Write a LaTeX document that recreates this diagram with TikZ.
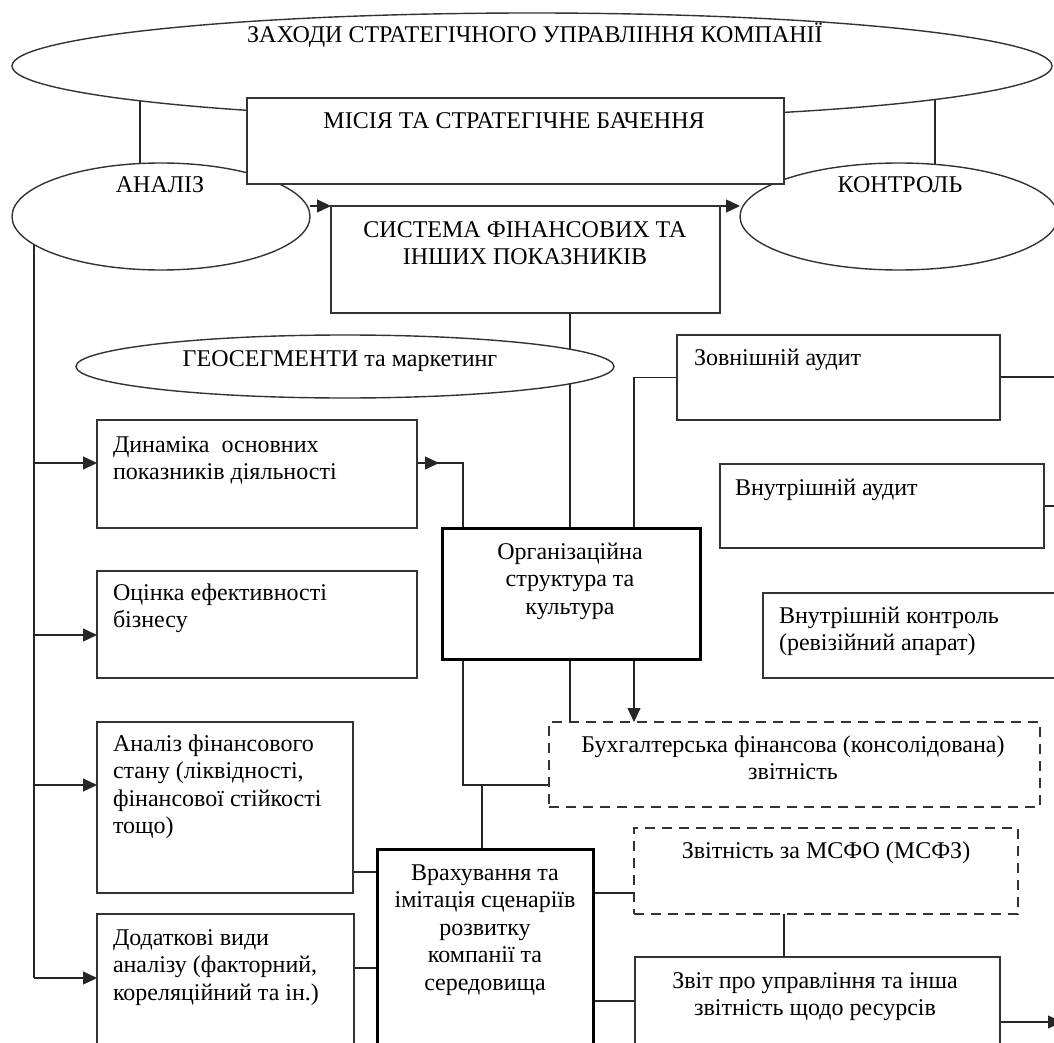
\documentclass[tikz,border=0pt]{standalone}
\usepackage{fontspec}
\setmainfont{Liberation Serif}
\usetikzlibrary{arrows.meta,calc,shapes.geometric,backgrounds}
\begin{document}
\begin{tikzpicture}[x=1pt,y=-1pt,
  every node/.style={inner sep=0pt, outer sep=0pt},
  ln/.style={line width=1.3pt, draw=black!85},
  box/.style={rectangle, draw=black!80, line width=1.4pt, fill=white, anchor=north west},
  thickbox/.style={box, line width=3pt, draw=black},
  dbox/.style={box, dash pattern=on 10pt off 7pt},
  ell/.style={ellipse, draw=black!80, line width=1.4pt, fill=white},
  txt/.style={font=\fontsize{24}{27.5}\selectfont, text=black},
  lt/.style={txt, align=left, anchor=base west},
  ct/.style={txt, align=center, anchor=base},
  arr/.style={ln, -{Triangle[length=14pt,width=13pt]}}
]
\useasboundingbox (0,0) rectangle (1054,1043);

% ellipses
\node[ell, minimum width=1040pt, minimum height=106pt] (big) at (532,66) {};
\node[ell, minimum width=298pt, minimum height=107pt] (an) at (161,216.5) {};
\node[ell, minimum width=318pt, minimum height=107pt] (ko) at (899,216.5) {};
\node[ell, minimum width=538pt, minimum height=63pt] (geo) at (345,366.5) {};

% boxes
\node[box, minimum width=537pt, minimum height=86pt] (mis) at (247,98) {};
\node[box, minimum width=389pt, minimum height=107pt] (sys) at (331,206) {};
\node[box, minimum width=320pt, minimum height=108pt] (din) at (97,420) {};
\node[box, minimum width=320pt, minimum height=107pt] (ots) at (97,571) {};
\node[box, minimum width=256pt, minimum height=171pt] (fin) at (97,722) {};
\node[box, minimum width=257pt, minimum height=150pt] (dod) at (97,914) {};
\node[thickbox, minimum width=258pt, minimum height=131pt] (org) at (442,528) {};
\node[thickbox, minimum width=216pt, minimum height=220pt] (vra) at (377,849) {};
\node[box, minimum width=323pt, minimum height=85pt] (zov) at (677,335) {};
\node[box, minimum width=324pt, minimum height=84pt] (via) at (720,464) {};
\node[box, minimum width=320pt, minimum height=85pt] (vik) at (763,593) {};
\node[dbox, minimum width=491pt, minimum height=85pt] (buh) at (549,722) {};
\node[dbox, minimum width=384pt, minimum height=86pt] (msfo) at (634,828) {};
\node[box, minimum width=365pt, minimum height=120pt] (zvit) at (635,957) {};

% texts (multi-line nodes are anchored at the baseline of their last line)
\node[ct] (tbig) at (535,43) {ЗАХОДИ СТРАТЕГІЧНОГО УПРАВЛІННЯ КОМПАНІЇ};
\node[ct] (tmis) at (514,129) {МІСІЯ ТА СТРАТЕГІЧНЕ БАЧЕННЯ};
\node[ct] (tan) at (160,193) {АНАЛІЗ};
\node[ct] (tko) at (900,193) {КОНТРОЛЬ};
\node[ct] (tsys) at (525,264.5) {СИСТЕМА ФІНАНСОВИХ ТА\\ІНШИХ ПОКАЗНИКІВ};
\node[ct] (tgeo) at (340,366) {ГЕОСЕГМЕНТИ та маркетинг};
\node[lt] (tdin) at (113,479.5) {Динаміка\ \ основних\\показників діяльності};
\node[lt] (tots) at (113,627.5) {Оцінка ефективності\\бізнесу};
\node[lt] (tfin) at (113,833.5) {Аналіз фінансового\\стану (ліквідності,\\фінансової стійкості\\тощо)};
\node[lt] (tdod) at (113,1000) {Додаткові види\\аналізу (факторний,\\кореляційний та ін.)};
\node[ct] (torg) at (570,614) {Організаційна\\структура та\\культура};
\node[ct] (tvra) at (485,990) {Врахування та\\імітація сценаріїв\\розвитку\\компанії та\\середовища};
\node[lt] (tzov) at (694,365) {Зовнішній аудит};
\node[lt] (tvia) at (735,495) {Внутрішній аудит};
\node[lt] (tvik) at (779,650.5) {Внутрішній контроль\\(ревізійний апарат)};
\node[ct] (tbuh) at (793,779.5) {Бухгалтерська фінансова (консолідована)\\звітність};
\node[ct] (tmsfo) at (826,858) {Звітність за МСФО (МСФЗ)};
\node[ct] (tzvit) at (815,1015.5) {Звіт про управління та інша\\звітність щодо ресурсів};

% helper coordinates
\coordinate (k1) at (140,95);
\coordinate (k2) at (935,95);
\coordinate (k3) at (570,0);
\coordinate (k4) at (634,0);
\coordinate (tr) at (34,240);
\coordinate (k6) at (463,0);
\coordinate (k7) at (482,0);
\coordinate (k8) at (784,0);
\coordinate (ya) at (0,463);
\coordinate (yb) at (0,635);
\coordinate (yc) at (0,785);
\coordinate (yd) at (0,978);
\coordinate (ye) at (0,872);
\coordinate (yf) at (0,968);
\coordinate (yg) at (0,893);
\coordinate (yh) at (0,1001);
\coordinate (yi) at (0,1022);
\coordinate (yj) at (0,377);
\coordinate (yk) at (0,506);
\coordinate (edge) at (1062,0);

\begin{pgfonlayer}{background}
\draw[ln] (k1) -- (k1 |- an.center);
\draw[ln] (k2) -- (k2 |- ko.center);
\draw[arr] (an.east |- sys.north west) -- (sys.north west);
\draw[arr] (sys.north east) -- (ko.west |- sys.north east);
\draw[ln] (k3 |- sys.south) -- (k3 |- buh.north);
\draw[arr] (zov.west) -| (k4 |- buh.north);
\draw[ln] (tr) -- (tr |- yd);
\draw[arr] (tr |- ya) -- (din.west |- ya);
\draw[arr] (tr |- yb) -- (ots.west |- yb);
\draw[arr] (tr |- yc) -- (fin.west |- yc);
\draw[arr] (tr |- yd) -- (dod.west |- yd);
\draw[arr] (din.east |- ya) -- ++(22,0);
\draw[ln] (din.east |- ya) -| (k6 |- yc) -- (buh.west |- yc);
\draw[ln] (k7 |- yc) -- (k7 |- vra.north);
\draw[ln] (fin.east |- ye) -- (vra.west |- ye);
\draw[ln] (dod.east |- yf) -- (vra.west |- yf);
\draw[ln] (vra.east |- yg) -- (msfo.west |- yg);
\draw[ln] (k8 |- msfo.south) -- (k8 |- zvit.north);
\draw[ln] (vra.east |- yh) -- (zvit.west |- yh);
\draw[arr] (zvit.east |- yi) -- (edge |- yi);
\draw[ln] (zov.east |- yj) -- (edge |- yj);
\draw[ln] (via.east |- yk) -- (edge |- yk);
\end{pgfonlayer}
\end{tikzpicture}
\end{document}
